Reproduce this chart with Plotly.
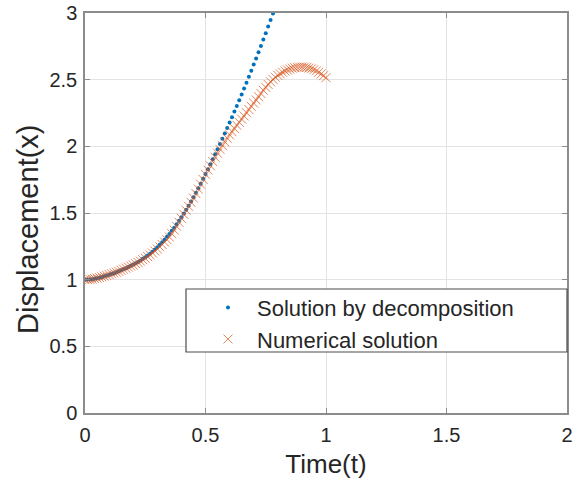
import plotly.graph_objects as go

# ---- data ----
t_decomp = [round(i * 0.01, 2) for i in range(0, 79)]
x_decomp = [
    1.000, 1.001, 1.002, 1.004, 1.007, 1.011, 1.015, 1.020, 1.025, 1.031,
    1.037, 1.043, 1.049, 1.056, 1.063, 1.070, 1.078, 1.086, 1.095, 1.104,
    1.113, 1.123, 1.133, 1.144, 1.156, 1.168, 1.181, 1.195, 1.210, 1.226,
    1.243, 1.261, 1.280, 1.300, 1.321, 1.343, 1.366, 1.390, 1.415, 1.441,
    1.468, 1.496, 1.525, 1.555, 1.586, 1.618, 1.651, 1.685, 1.720, 1.756,
    1.793, 1.829, 1.866, 1.903, 1.941, 1.979, 2.018, 2.057, 2.097, 2.137,
    2.178, 2.219, 2.261, 2.303, 2.346, 2.389, 2.433, 2.477, 2.522, 2.567,
    2.613, 2.659, 2.706, 2.753, 2.801, 2.849, 2.898, 2.947, 2.997,
]

t_num = [round(i * 0.01, 2) for i in range(0, 101)]
x_num = [
    1.000, 1.001, 1.002, 1.004, 1.008, 1.012, 1.016, 1.021, 1.026, 1.032,
    1.038, 1.044, 1.050, 1.056, 1.063, 1.070, 1.078, 1.086, 1.094, 1.102,
    1.110, 1.120, 1.129, 1.139, 1.149, 1.160, 1.173, 1.186, 1.200, 1.215,
    1.230, 1.247, 1.264, 1.282, 1.300, 1.320, 1.345, 1.372, 1.400, 1.430,
    1.460, 1.490, 1.520, 1.550, 1.580, 1.612, 1.646, 1.680, 1.716, 1.752,
    1.790, 1.822, 1.854, 1.886, 1.918, 1.948, 1.978, 2.006, 2.034, 2.060,
    2.086, 2.110, 2.134, 2.158, 2.180, 2.204, 2.228, 2.252, 2.276, 2.300,
    2.324, 2.348, 2.372, 2.396, 2.420, 2.442, 2.464, 2.484, 2.502, 2.518,
    2.532, 2.544, 2.555, 2.565, 2.573, 2.580, 2.586, 2.590, 2.593, 2.595,
    2.595, 2.594, 2.591, 2.587, 2.582, 2.575, 2.566, 2.555, 2.543, 2.530,
    2.515,
]

x_ticks = [0, 0.5, 1, 1.5, 2]
x_tick_text = ["0", "0.5", "1", "1.5", "2"]
y_ticks = [0, 0.5, 1, 1.5, 2, 2.5, 3]
y_tick_text = ["0", "0.5", "1", "1.5", "2", "2.5", "3"]

names = ["Solution by decomposition", "Numerical solution"]
x_title = "Time(t)"
y_title = "Displacement(x)"

BLUE = "#0072BD"
ORANGE = "#D95319"
FONT = "Liberation Sans, Arial, Helvetica, sans-serif"
TEXT = "#262626"
AXIS = "#8c8c8c"
GRID = "#e3e3e3"

fig = go.Figure()
fig.add_trace(go.Scatter(
    x=t_decomp, y=x_decomp, mode="markers", name=names[0],
    marker=dict(symbol="circle", size=4, color=BLUE, line=dict(width=0)),
))
fig.add_trace(go.Scatter(
    x=t_num, y=x_num, mode="markers", name=names[1],
    marker=dict(symbol="x-thin", size=9, color=ORANGE,
                line=dict(width=1, color="rgba(217,83,25,0.7)")),
))

axis_common = dict(
    showline=True, linecolor=AXIS, linewidth=1.5, mirror="ticks",
    ticks="inside", ticklen=5, tickcolor=AXIS, tickwidth=1,
    showgrid=True, gridcolor=GRID, gridwidth=1, zeroline=False,
    tickfont=dict(family=FONT, size=20, color=TEXT),
    automargin=False,
)

fig.update_xaxes(
    range=[0, 2], tickvals=x_ticks, ticktext=x_tick_text,
    title=dict(text=x_title, font=dict(family=FONT, size=26, color=TEXT), standoff=10),
    ticklabelstandoff=3,
    **axis_common,
)
fig.update_yaxes(
    range=[0, 3], tickvals=y_ticks, ticktext=y_tick_text,
    ticklabelstandoff=2,
    **axis_common,
)

PL, PR, PT, PB = 85, 567, 13, 413
W, H = 579, 488

# y-axis title placed as rotated text (centred slightly below the plot middle, as in the reference)
fig.add_annotation(
    text=y_title, xref="paper", yref="paper",
    x=(28 - PL) / (PR - PL), y=(PB - 229) / (PB - PT),
    xanchor="center", yanchor="middle", textangle=-90, showarrow=False,
    font=dict(family=FONT, size=29, color=TEXT),
)

# legend box (MATLAB-style framed legend)
x0p = (186 - PL) / (PR - PL)
x1p = (567 - PL) / (PR - PL)
y1p = (PB - 289) / (PB - PT)
y0p = (PB - 352) / (PB - PT)
fig.add_shape(type="rect", xref="paper", yref="paper",
              x0=x0p, x1=x1p, y0=y0p, y1=y1p,
              line=dict(color="#4d4d4d", width=1.2), fillcolor="white", layer="above")

fig.update_layout(
    width=W, height=H,
    margin=dict(l=PL, r=W - PR, t=PT, b=H - PB),
    paper_bgcolor="white", plot_bgcolor="white",
    font=dict(family=FONT, color=TEXT),
    showlegend=True,
    legend=dict(
        x=(199 - PL) / (PR - PL), y=y1p + 0.006, xanchor="left", yanchor="top",
        bgcolor="rgba(0,0,0,0)", borderwidth=0,
        font=dict(family=FONT, size=22, color=TEXT),
        itemwidth=48, tracegroupgap=0,
    ),
)

fig.write_html("out.html")
